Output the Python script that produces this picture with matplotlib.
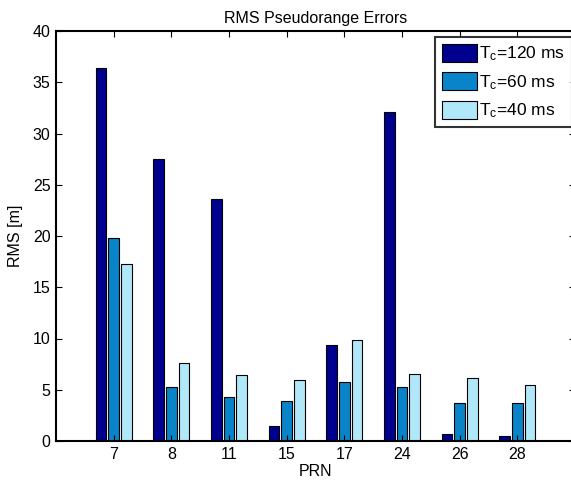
import numpy as np
import matplotlib.pyplot as plt

plt.rcParams['font.family'] = ['Liberation Sans', 'DejaVu Sans']
plt.rcParams['mathtext.fontset'] = 'custom'
plt.rcParams['mathtext.rm'] = 'Liberation Sans'
plt.rcParams['mathtext.it'] = 'Liberation Sans:italic'

# данные
prn = ['7', '8', '11', '15', '17', '24', '26', '28']
rms_120 = [36.4, 27.5, 23.6, 1.5, 9.4, 32.1, 0.7, 0.5]
rms_60 = [19.8, 5.3, 4.3, 3.9, 5.8, 5.3, 3.7, 3.7]
rms_40 = [17.3, 7.6, 6.4, 6.0, 9.9, 6.5, 6.1, 5.5]
labels = [r'T$_\mathrm{c}$=120 ms', r'T$_\mathrm{c}$=60 ms', r'T$_\mathrm{c}$=40 ms']
colors = ['#00008f', '#0a84c8', '#b0e8fa']

fs = 11.5
fig = plt.figure(figsize=(5.71, 4.84), dpi=100)
ax = fig.add_axes([56 / 571, 43 / 484, 519 / 571, 410 / 484])

x = np.arange(1, len(prn) + 1)
w = 0.19
series = [rms_120, rms_60, rms_40]
offsets = [-0.22, 0.0, 0.22]
for vals, off, c, lab in zip(series, offsets, colors, labels):
    ax.bar(x + off, vals, w, color=c, edgecolor='black', linewidth=0.8, label=lab)

ax.set_xlim(0, 9)
ax.set_ylim(0, 40)
ax.set_xticks(x)
ax.set_xticklabels(prn)
ax.set_yticks(np.arange(0, 41, 5))
ax.tick_params(direction='in', length=4, width=0.8, labelsize=fs,
               top=True, right=True, colors='black', pad=4)
for s in ax.spines.values():
    s.set_linewidth(1.5)

ax.set_xlabel('PRN', fontsize=fs, labelpad=2)
ax.set_ylabel('RMS [m]', fontsize=fs, labelpad=7)
ax.set_title('RMS Pseudorange Errors', fontsize=fs, pad=6)

leg = ax.legend(loc='upper left', bbox_to_anchor=(435 / 571, 1 - 37 / 484),
                bbox_transform=fig.transFigure, fancybox=False, fontsize=12.5,
                handlelength=2.0, handleheight=1.2, handletextpad=0.12,
                borderpad=0.4, labelspacing=0.52, borderaxespad=0)
leg.get_frame().set_edgecolor('black')
leg.get_frame().set_linewidth(1.5)

plt.savefig('out.png', dpi=100)
